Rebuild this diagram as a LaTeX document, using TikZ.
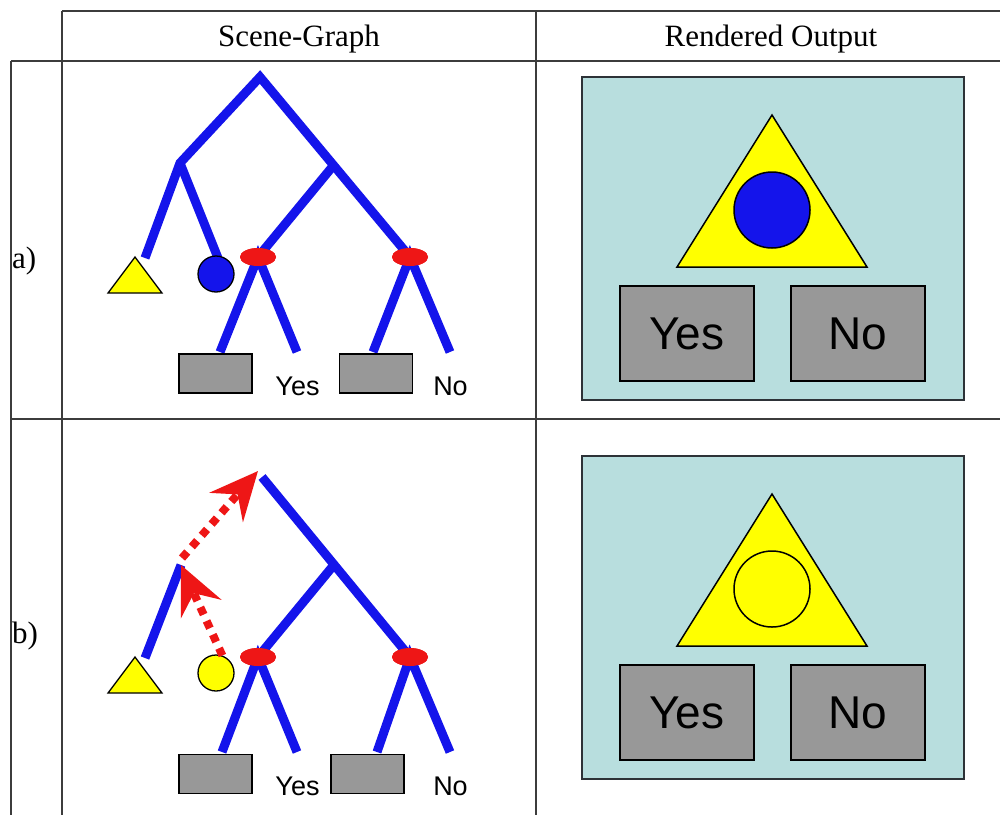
\documentclass[tikz,border=0pt]{standalone}
\usepackage{fontspec}
\setmainfont{Liberation Serif}
\newfontfamily\arialf{Liberation Sans}
\usetikzlibrary{arrows.meta,shapes.geometric}
\definecolor{sgblue}{RGB}{20,20,235}
\definecolor{sgred}{RGB}{238,22,22}
\definecolor{sgyellow}{RGB}{255,255,0}
\definecolor{sggray}{RGB}{152,152,152}
\definecolor{sgcyan}{RGB}{184,222,222}
\definecolor{tablecol}{RGB}{60,60,60}
\definecolor{framecol}{RGB}{45,50,55}
\begin{document}
\begin{tikzpicture}[x=1pt,y=-1pt,
  tableline/.style={draw=tablecol,line width=1.6pt},
  link/.style={draw=sgblue,line width=9pt,line join=miter},
  sel/.style={ellipse,fill=sgred,minimum width=36pt,minimum height=18pt,inner sep=0pt},
  leafbox/.style={rectangle,draw=black,line width=1.2pt,fill=sggray,minimum width=73pt,minimum height=39pt,inner sep=0pt},
  leafball/.style={circle,draw=black,line width=1.3pt,minimum size=36pt,inner sep=0pt},
  leaftri/.style={draw=black,line width=1.3pt,fill=sgyellow,line join=miter},
  sglabel/.style={font=\arialf\fontsize{27}{30}\selectfont,anchor=base,inner sep=0pt},
  head/.style={font=\fontsize{31}{36}\selectfont,anchor=base,inner sep=0pt},
  screen/.style={rectangle,draw=framecol,line width=2.5pt,fill=sgcyan,minimum width=382pt,minimum height=323pt,inner sep=0pt},
  bigtri/.style={draw=black,line width=1.5pt,fill=sgyellow,line join=miter},
  bigball/.style={circle,draw=black,line width=1.5pt,minimum size=76pt,inner sep=0pt},
  button/.style={rectangle,draw=black,line width=1.8pt,fill=sggray,minimum width=134pt,minimum height=95pt,inner sep=0pt,font=\arialf\fontsize{46}{50}\selectfont},
  move/.style={draw=sgred,line width=8pt,dash pattern=on 8pt off 7pt,
    -{Stealth[length=48pt,width=44pt,inset=17pt,sep=0pt]}}
]
\useasboundingbox (0,0) rectangle (1000,815);

% ---------- table ----------
\draw[tableline] (62,11) -- (1000,11);
\draw[tableline] (11,61) -- (1000,61);
\draw[tableline] (11,419) -- (1000,419);
\draw[tableline] (11,61) -- (11,815);
\draw[tableline] (62,11) -- (62,815);
\draw[tableline] (536,11) -- (536,815);
\node[head] (h1) at (299,46) {Scene-Graph};
\node[head] (h2) at (771,46) {Rendered Output};
\node[head,anchor=base west] (la) at (12,268) {a)};
\node[head,anchor=base west] (lb) at (12,643) {b)};

% ---------- row a: scene graph ----------
\coordinate (ra) at (260,77);
\coordinate (La) at (180,163);
\coordinate (Ja) at (333,166);
\coordinate (ta) at (145,258);
\coordinate (ba) at (218,258);
\coordinate (a1) at (220,352);
\coordinate (a2) at (297,352);
\coordinate (a3) at (373,352);
\coordinate (a4) at (450,352);
\node[sel] (s1a) at (258,257) {};
\node[sel] (s2a) at (410,257) {};
\draw[link] (ta) -- (La) -- (ra) -- (s2a.center);
\draw[link] (La) -- (ba);
\draw[link] (Ja) -- (s1a.center);
\draw[link] (a1) -- (s1a.center) -- (a2);
\draw[link] (a3) -- (s2a.center) -- (a4);
\node[sel] at (s1a) {};
\node[sel] at (s2a) {};
\draw[leaftri] (108,293) -- (135,257) -- (162,293) -- cycle;
\node[leafball,fill=sgblue] (ca) at (216,274) {};
\node[leafbox] (ya) at (215.5,373.5) {};
\node[leafbox] (na) at (376,373.5) {};
\node[sglabel] (yta) at (297.5,395) {Yes};
\node[sglabel] (nta) at (450.5,395) {No};

% ---------- row a: rendered ----------
\node[screen] (scra) at (773,238.5) {};
\draw[bigtri] (677,267) -- (772,115) -- (867,267) -- cycle;
\node[bigball,fill=sgblue] (bba) at (772,210) {};
\node[button] (byA) at (687,333.5) {Yes};
\node[button] (bnA) at (858,333.5) {No};

% ---------- row b: scene graph ----------
\coordinate (rb) at (262,477);
\coordinate (tipb) at (258,471);
\coordinate (Lb) at (181,565);
\coordinate (Jb) at (333,566);
\coordinate (tb) at (145,658);
\coordinate (b1) at (222,752);
\coordinate (b2) at (297,752);
\coordinate (b3) at (377,752);
\coordinate (b4) at (450,752);
\node[sel] (s1b) at (258,657) {};
\node[sel] (s2b) at (410,657) {};
\draw[link] (tb) -- (Lb);
\draw[link] (rb) -- (s2b.center);
\draw[link] (Jb) -- (s1b.center);
\draw[link] (b1) -- (s1b.center) -- (b2);
\draw[link] (b3) -- (s2b.center) -- (b4);
\node[sel] at (s1b) {};
\node[sel] at (s2b) {};
\draw[leaftri] (108,693) -- (135,657) -- (162,693) -- cycle;
\node[leafball,fill=sgyellow] (cb) at (216,673) {};
\node[leafbox] (yb) at (215.5,774) {};
\node[leafbox] (nb) at (367.5,774) {};
\node[sglabel] (ytb) at (297.5,795) {Yes};
\node[sglabel] (ntb) at (450.5,795) {No};
\draw[move] (cb.70) -- (Lb);
\draw[move] (182,558) -- (tipb);

% ---------- row b: rendered ----------
\node[screen] (scrb) at (773,617.5) {};
\draw[bigtri] (677,646) -- (772,494) -- (867,646) -- cycle;
\node[bigball,fill=sgyellow] (bbb) at (772,589) {};
\node[button] (byB) at (687,712.5) {Yes};
\node[button] (bnB) at (858,712.5) {No};
\end{tikzpicture}
\end{document}
